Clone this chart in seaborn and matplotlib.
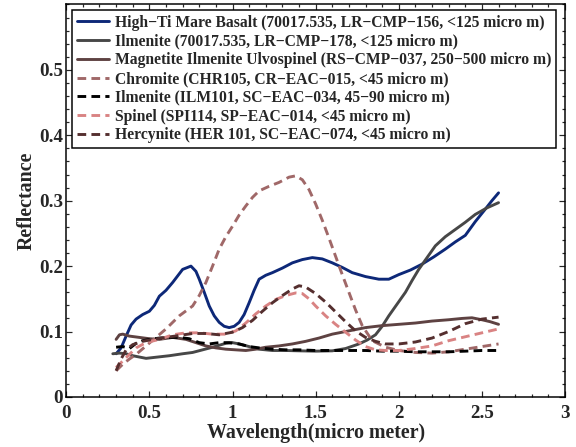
import pandas as pd
import matplotlib
matplotlib.use("Agg")
import matplotlib.pyplot as plt
import seaborn as sns
from matplotlib.ticker import MultipleLocator, FuncFormatter

# Spectra
hiTi_x = [0.30, 0.33, 0.36, 0.39, 0.42, 0.46, 0.50, 0.53, 0.56, 0.60, 0.64, 0.67, 0.70, 0.73, 0.75,
          0.78, 0.80, 0.83, 0.86, 0.89, 0.92, 0.95, 0.98, 1.01, 1.04, 1.07, 1.10, 1.13, 1.16, 1.20,
          1.24, 1.30, 1.36, 1.42, 1.48, 1.54, 1.60, 1.66, 1.72, 1.80, 1.88, 1.94, 2.00, 2.07, 2.14,
          2.21, 2.28, 2.34, 2.40, 2.46, 2.52, 2.56, 2.60]
hiTi_y = [0.066, 0.075, 0.093, 0.110, 0.119, 0.126, 0.131, 0.140, 0.154, 0.163, 0.175, 0.185, 0.195, 0.198, 0.200,
          0.192, 0.180, 0.160, 0.139, 0.124, 0.114, 0.108, 0.106, 0.108, 0.114, 0.126, 0.144, 0.163, 0.180, 0.186,
          0.190, 0.197, 0.205, 0.210, 0.213, 0.211, 0.205, 0.198, 0.190, 0.184, 0.180, 0.180, 0.187, 0.194, 0.203,
          0.214, 0.226, 0.237, 0.247, 0.268, 0.287, 0.300, 0.312]

ilm1_x = [0.28, 0.32, 0.36, 0.40, 0.44, 0.48, 0.55, 0.62, 0.70, 0.76, 0.82, 0.88, 0.92, 0.96, 1.00,
          1.04, 1.10, 1.16, 1.24, 1.32, 1.40, 1.50, 1.60, 1.68, 1.76, 1.81, 1.86, 1.90, 1.94, 1.99,
          2.04, 2.08, 2.12, 2.17, 2.22, 2.28, 2.34, 2.40, 2.46, 2.53, 2.60]
ilm1_y = [0.066, 0.067, 0.066, 0.063, 0.061, 0.059, 0.061, 0.063, 0.066, 0.068, 0.072, 0.076, 0.079, 0.082, 0.083,
          0.081, 0.077, 0.073, 0.071, 0.071, 0.0705, 0.070, 0.0705, 0.074, 0.081, 0.087, 0.095, 0.108, 0.124, 0.142,
          0.160, 0.178, 0.195, 0.213, 0.231, 0.245, 0.256, 0.267, 0.279, 0.289, 0.297]

miu_x = [0.30, 0.32, 0.34, 0.38, 0.44, 0.50, 0.56, 0.64, 0.72, 0.78, 0.84, 0.90, 0.96, 1.02, 1.08,
         1.14, 1.20, 1.28, 1.36, 1.44, 1.52, 1.60, 1.70, 1.80, 1.90, 2.00, 2.10, 2.20, 2.30, 2.38,
         2.44, 2.50, 2.55, 2.60]
miu_y = [0.088, 0.095, 0.096, 0.093, 0.091, 0.089, 0.088, 0.091, 0.088, 0.083, 0.078, 0.075, 0.073, 0.072, 0.071,
         0.073, 0.076, 0.078, 0.081, 0.085, 0.090, 0.096, 0.101, 0.106, 0.109, 0.111, 0.113, 0.116, 0.118, 0.120,
         0.121, 0.118, 0.115, 0.111]

chr_x = [0.30, 0.34, 0.38, 0.42, 0.48, 0.54, 0.60, 0.68, 0.76, 0.80, 0.84, 0.88, 0.92, 0.96, 1.00,
         1.04, 1.08, 1.12, 1.16, 1.22, 1.28, 1.34, 1.38, 1.42, 1.46, 1.50, 1.54, 1.58, 1.62, 1.66,
         1.70, 1.74, 1.78, 1.84, 1.92, 2.00, 2.10, 2.20, 2.30, 2.40, 2.50, 2.60]
chr_y = [0.040, 0.050, 0.058, 0.065, 0.078, 0.091, 0.104, 0.124, 0.139, 0.155, 0.175, 0.200, 0.226, 0.245, 0.261,
         0.278, 0.292, 0.305, 0.315, 0.322, 0.328, 0.336, 0.338, 0.332, 0.317, 0.295, 0.270, 0.243, 0.215, 0.187,
         0.160, 0.133, 0.109, 0.086, 0.076, 0.071, 0.068, 0.067, 0.069, 0.073, 0.077, 0.081]

ilm2_x = [0.30, 0.34, 0.38, 0.42, 0.46, 0.50, 0.56, 0.62, 0.68, 0.74, 0.80, 0.86, 0.92, 0.98, 1.04,
          1.10, 1.16, 1.24, 1.32, 1.40, 1.50, 1.60, 1.70, 1.80, 1.90, 2.00, 2.10, 2.20, 2.30, 2.40,
          2.50, 2.60]
ilm2_y = [0.076, 0.077, 0.074, 0.082, 0.086, 0.088, 0.090, 0.091, 0.091, 0.089, 0.083, 0.081, 0.083, 0.083, 0.081,
          0.077, 0.075, 0.073, 0.072, 0.072, 0.071, 0.071, 0.071, 0.071, 0.070, 0.070, 0.069, 0.069, 0.069, 0.070,
          0.071, 0.071]

spi_x = [0.30, 0.34, 0.38, 0.42, 0.48, 0.56, 0.64, 0.72, 0.80, 0.88, 0.96, 1.02, 1.08, 1.14, 1.20,
         1.26, 1.32, 1.38, 1.42, 1.46, 1.50, 1.56, 1.62, 1.68, 1.74, 1.80, 1.86, 1.92, 2.00, 2.10,
         2.20, 2.30, 2.40, 2.50, 2.60]
spi_y = [0.045, 0.055, 0.065, 0.075, 0.083, 0.088, 0.095, 0.098, 0.098, 0.096, 0.096, 0.101, 0.113, 0.127, 0.139,
         0.149, 0.155, 0.159, 0.158, 0.150, 0.139, 0.124, 0.111, 0.099, 0.087, 0.077, 0.072, 0.071, 0.071, 0.074,
         0.078, 0.086, 0.092, 0.098, 0.104]

her_x = [0.30, 0.33, 0.36, 0.40, 0.46, 0.52, 0.60, 0.68, 0.76, 0.84, 0.92, 1.00, 1.06, 1.12, 1.18,
         1.24, 1.30, 1.36, 1.40, 1.44, 1.50, 1.56, 1.62, 1.68, 1.74, 1.80, 1.86, 1.92, 2.00, 2.10,
         2.20, 2.30, 2.40, 2.50, 2.60]
her_y = [0.040, 0.058, 0.072, 0.080, 0.085, 0.088, 0.091, 0.094, 0.097, 0.097, 0.095, 0.099, 0.106, 0.117, 0.131,
         0.144, 0.155, 0.165, 0.170, 0.168, 0.158, 0.145, 0.130, 0.115, 0.101, 0.091, 0.085, 0.081, 0.081, 0.084,
         0.090, 0.100, 0.112, 0.119, 0.122]

labels = [
    "High\u2212Ti Mare Basalt (70017.535, LR\u2212CMP\u2212156, <125 micro m)",
    "Ilmenite (70017.535, LR\u2212CMP\u2212178, <125 micro m)",
    "Magnetite Ilmenite Ulvospinel (RS\u2212CMP\u2212037, 250\u2212500 micro m)",
    "Chromite (CHR105, CR\u2212EAC\u2212015, <45 micro m)",
    "Ilmenite (ILM101, SC\u2212EAC\u2212034, 45\u221290 micro m)",
    "Spinel (SPI114, SP\u2212EAC\u2212014, <45 micro m)",
    "Hercynite (HER 101, SC\u2212EAC\u2212074, <45 micro m)",
]
xs = [hiTi_x, ilm1_x, miu_x, chr_x, ilm2_x, spi_x, her_x]
ys = [hiTi_y, ilm1_y, miu_y, chr_y, ilm2_y, spi_y, her_y]
colors = ["#0d2878", "#474747", "#5e4242", "#a06868", "#000000", "#d98383", "#552f2f"]
dashed = [False, False, False, True, True, True, True]

frames = [pd.DataFrame({"wl": x, "refl": y, "sample": lab}) for x, y, lab in zip(xs, ys, labels)]
df = pd.concat(frames, ignore_index=True)

sns.set_theme(style="ticks")
plt.rcParams["font.family"] = ["Liberation Serif", "DejaVu Serif"]
plt.rcParams["font.weight"] = "bold"

fig = plt.figure(figsize=(8, 447 / 72), dpi=72)
ax = fig.add_axes([0.115, 0.112, 0.866, 0.878])

sns.lineplot(data=df, x="wl", y="refl", hue="sample", style="sample",
             hue_order=labels, style_order=labels,
             palette=dict(zip(labels, colors)),
             dashes={lab: ((3, 1.8) if d else "") for lab, d in zip(labels, dashed)},
             linewidth=2.9, estimator=None, sort=False, ax=ax)

ax.set_xlim(0, 3)
ax.set_ylim(0, 0.6)
ax.xaxis.set_major_locator(MultipleLocator(0.5))
ax.xaxis.set_minor_locator(MultipleLocator(0.1))
ax.set_yticks([0, 0.1, 0.2, 0.3, 0.4, 0.5])
ax.yaxis.set_minor_locator(MultipleLocator(0.02))
fmt = FuncFormatter(lambda v, p: "%g" % round(v, 2))
ax.xaxis.set_major_formatter(fmt)
ax.yaxis.set_major_formatter(fmt)
ax.tick_params(which="both", direction="in", top=True, right=True, width=1.2)
ax.tick_params(which="major", length=6, labelsize=19)
ax.tick_params(axis="x", which="major", pad=8)
ax.tick_params(axis="y", which="major", pad=3)
ax.tick_params(which="minor", length=3)
for s in ax.spines.values():
    s.set_linewidth(1.5)
    s.set_color("black")

ax.set_xlabel("Wavelength(micro meter)", fontsize=20, fontweight="bold", labelpad=1)
ax.set_ylabel("Reflectance", fontsize=20, fontweight="bold", labelpad=3)

handles, labs = ax.get_legend_handles_labels()
leg = ax.legend(handles, labs, loc="upper left", bbox_to_anchor=(0.012, 0.986),
                prop={"size": 15.6, "weight": "bold"}, frameon=True, fancybox=False,
                edgecolor="black", framealpha=1, borderpad=0.3, labelspacing=0.18,
                handlelength=2.05, handletextpad=0.38, borderaxespad=0)
leg.get_frame().set_linewidth(1.5)

fig.savefig("out.png", dpi=72)
